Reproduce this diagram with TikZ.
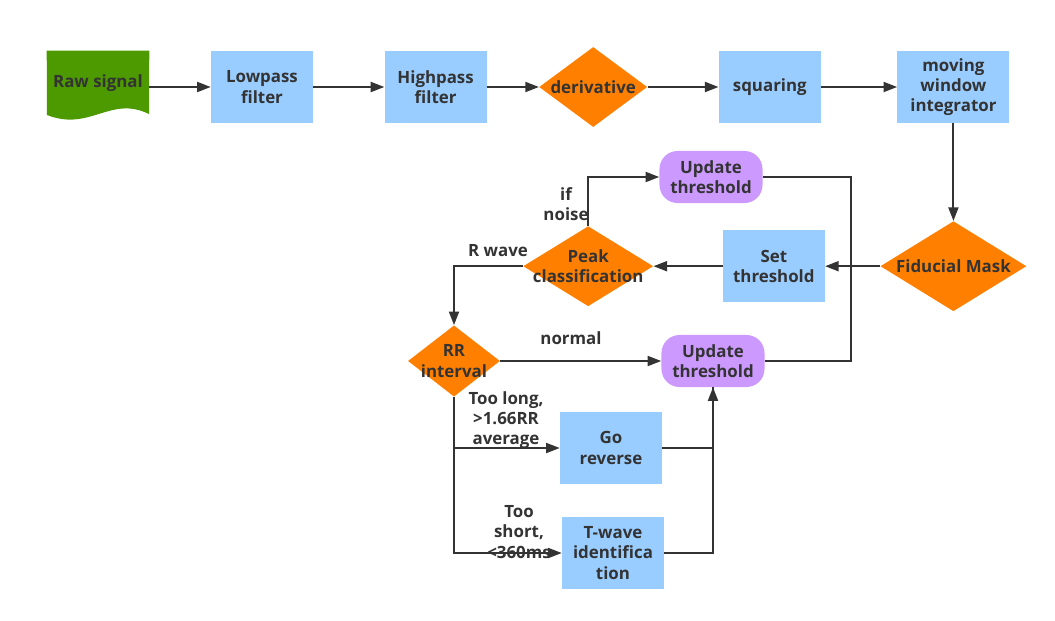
\documentclass[tikz,border=0pt]{standalone}
\usepackage{fontspec}
\setmainfont{Open Sans}
\usetikzlibrary{arrows.meta,positioning,shapes.geometric,backgrounds}
\definecolor{rawgreen}{RGB}{77,153,0}
\definecolor{procblue}{RGB}{153,204,255}
\definecolor{decorange}{RGB}{255,128,0}
\definecolor{updpurple}{RGB}{204,153,255}
\definecolor{inkgray}{RGB}{51,51,51}

\begin{document}
\begin{tikzpicture}[x=0.025cm,y=-0.025cm,
  font=\fontsize{12}{14.3}\selectfont\bfseries, text=inkgray,
  proc/.style={rectangle,fill=procblue,minimum width=2.55cm,minimum height=1.8cm,align=center,inner sep=1pt},
  decision/.style={diamond,fill=decorange,inner sep=0pt},
  dtext/.style={align=center,text=inkgray},
  update/.style={rectangle,rounded corners=0.45cm,fill=updpurple,minimum width=2.575cm,minimum height=1.3cm,align=center},
  tag/.style={align=center},
  arr/.style={draw=inkgray,line width=1.4pt,-{Triangle[length=3.4mm,width=2.5mm]}},
  wire/.style={draw=inkgray,line width=1.4pt}]
\useasboundingbox (0,0) rectangle (1055,620);
% top row
\node[minimum width=2.55cm,minimum height=1.6cm,inner sep=0pt] (raw) at (98,83) {Raw signal};
\begin{scope}[on background layer]
\fill[rawgreen] (raw.north west) -- (raw.north east) -- (149,114)
  .. controls (110,95) and (90,132) .. (47,115) -- cycle;
\end{scope}
\node[proc] (lowp) at (262,87) {Lowpass\\filter};
\node[proc, right=1.775cm of lowp] (highp) {Highpass\\filter};
\node[decision, minimum width=2.7cm, minimum height=2cm, right=1.3cm of highp,
  label={[dtext]center:derivative}] (deriv) {};
\node[proc, right=1.775cm of deriv] (squar) {squaring};
\node[proc, minimum width=2.8cm, minimum height=1.78cm, right=1.9cm of squar] (mwi) {moving\\window\\integrator};
% detection row
\node[decision, minimum width=3.65cm, minimum height=2.25cm, below=2.45cm of mwi,
  label={[dtext]center:Fiducial Mask}] (fid) {};
\node[proc, left=1.375cm of fid] (setth) {Set\\threshold};
\node[decision, minimum width=3.25cm, minimum height=2cm, left=1.725cm of setth,
  label={[dtext]center:{Peak\\classification}}] (peak) {};
\node[update] (upd1) at (711,177) {Update\\threshold};
% RR branch
\node[decision, minimum width=2.3cm, minimum height=1.78cm,
  label={[dtext]center:{RR\\interval}}] (rr) at (454,361) {};
\node[update] (upd2) at (713,361) {Update\\threshold};
\node[proc] (goback) at (611,448) {Go\\reverse};
\node[proc] (twave) at (613,553) {T-wave\\identifica\\tion};
\coordinate (loopx) at (851,270);
% connectors
\draw[arr] (raw.east |- lowp.west) -- (lowp.west);
\draw[arr] (lowp) -- (highp);
\draw[arr] (highp) -- (deriv);
\draw[arr] (deriv) -- (squar);
\draw[arr] (squar) -- (mwi);
\draw[arr] (mwi) -- (fid);
\draw[arr] (fid) -- (setth);
\draw[arr] (setth) -- (peak);
\draw[arr] (peak.north) |- (upd1.west);
\draw[arr] (peak.west) -| (rr.north);
\draw[arr] (rr.east) -- (upd2.west);
\draw[arr] (rr.south) |- (twave.west);
\draw[arr] (rr.south |- goback.west) -- (goback.west);
\draw[wire] (goback.east) -| (upd2.south);
\draw[arr] (twave.east) -| (upd2.south);
\draw[wire] (upd1.east) -| (loopx) |- (upd2.east);
% labels
\node[tag] (lblnoise) at (566,204) {if\\noise};
\node[tag] (lblr) at (498,251) {R wave};
\node[tag] (lblnorm) at (571,338) {normal};
\node[tag] (lbllong) at (506,420) {Too long,\\>1.66RR\\average};
\node[tag] (lblshort) at (519,532) {Too\\short,\\<360ms};
\end{tikzpicture}
\end{document}
